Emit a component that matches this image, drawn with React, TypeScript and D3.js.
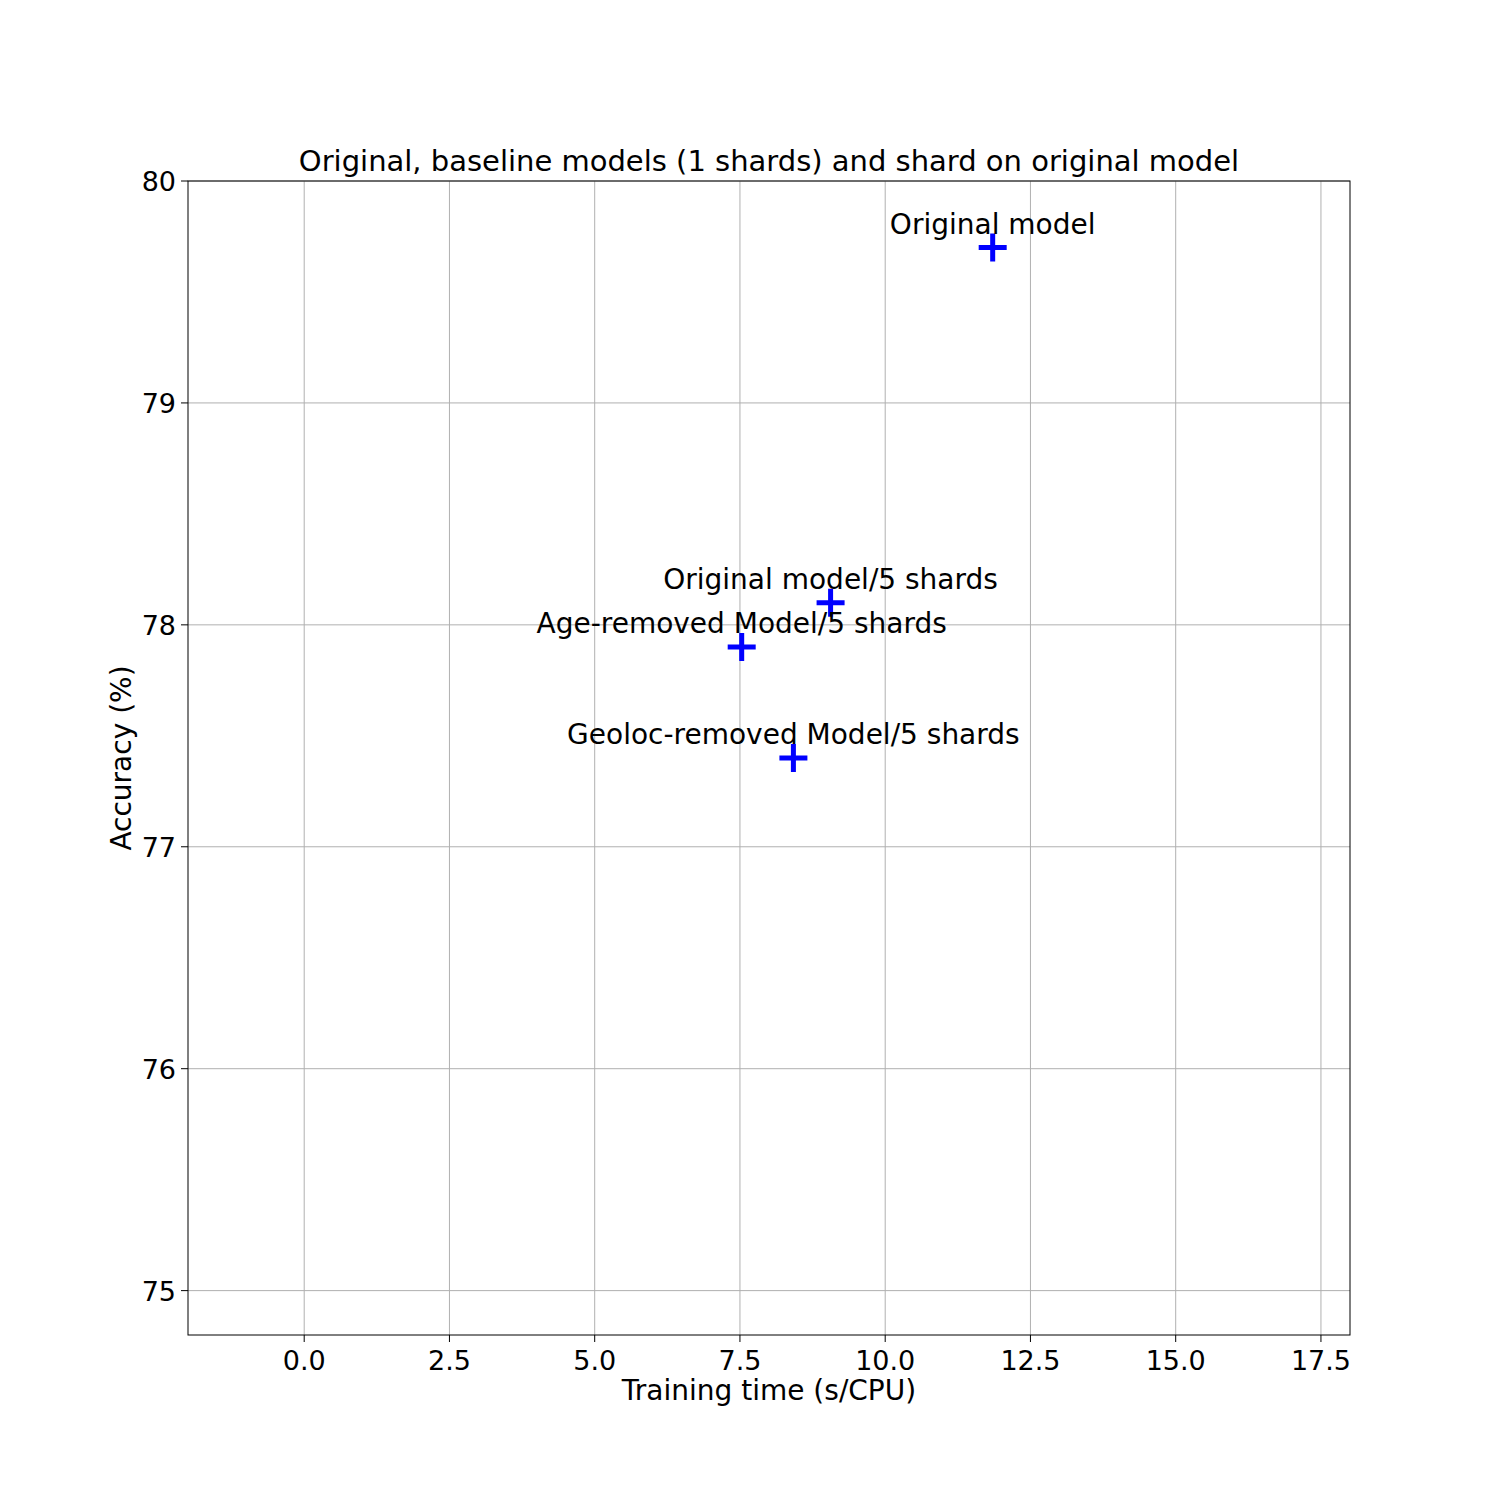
import * as d3 from 'd3';

const labels = ['Original model', 'Original model/5 shards', 'Age-removed Model/5 shards', 'Geoloc-removed Model/5 shards'];
const times = [11.85, 9.06, 7.53, 8.42];
const accuracy = [79.7, 78.1, 77.9, 77.4];
const xTicks = [0, 2.5, 5, 7.5, 10, 12.5, 15, 17.5];
const yTicks = [75, 76, 77, 78, 79, 80];

export default function App() {
  const left = 188, right = 1350, top = 181, bottom = 1335;
  const x = d3.scaleLinear().domain([-2, 18]).range([left, right]);
  const y = d3.scaleLinear().domain([74.8, 80]).range([bottom, top]);
  const font = 'DejaVu Sans, sans-serif';
  return (
    <svg width={1500} height={1500} style={{ position: 'absolute', left: 0, top: 0 }} fontFamily={font}>
      <rect width={1500} height={1500} fill="white" />
      {xTicks.map(t => (
        <g key={'x' + t}>
          <line x1={x(t)} x2={x(t)} y1={top} y2={bottom} stroke="#b0b0b0" strokeWidth={1} />
          <line x1={x(t)} x2={x(t)} y1={bottom} y2={bottom + 7} stroke="black" />
          <text x={x(t)} y={bottom + 35} fontSize={27} textAnchor="middle">{t.toFixed(1)}</text>
        </g>
      ))}
      {yTicks.map(t => (
        <g key={'y' + t}>
          <line x1={left} x2={right} y1={y(t)} y2={y(t)} stroke="#b0b0b0" strokeWidth={1} />
          <line x1={left - 7} x2={left} y1={y(t)} y2={y(t)} stroke="black" />
          <text x={left - 12} y={y(t) + 10} fontSize={27} textAnchor="end">{t}</text>
        </g>
      ))}
      <rect x={left} y={top} width={right - left} height={bottom - top} fill="none" stroke="black" strokeWidth={1} />
      {labels.map((l, i) => {
        const px = x(times[i]), py = y(accuracy[i]);
        return (
          <g key={l}>
            <path d={`M${px - 14},${py} H${px + 14} M${px},${py - 14} V${py + 14}`} stroke="#0000ff" strokeWidth={5} />
            <text x={px} y={py - 14} fontSize={28} textAnchor="middle">{l}</text>
          </g>
        );
      })}
      <text x={(left + right) / 2} y={171} fontSize={29} textAnchor="middle">Original, baseline models (1 shards) and shard on original model</text>
      <text x={(left + right) / 2} y={1400} fontSize={28} textAnchor="middle">Training time (s/CPU)</text>
      <text transform={`translate(131,${(top + bottom) / 2}) rotate(-90)`} fontSize={28} textAnchor="middle">Accuracy (%)</text>
    </svg>
  );
}
